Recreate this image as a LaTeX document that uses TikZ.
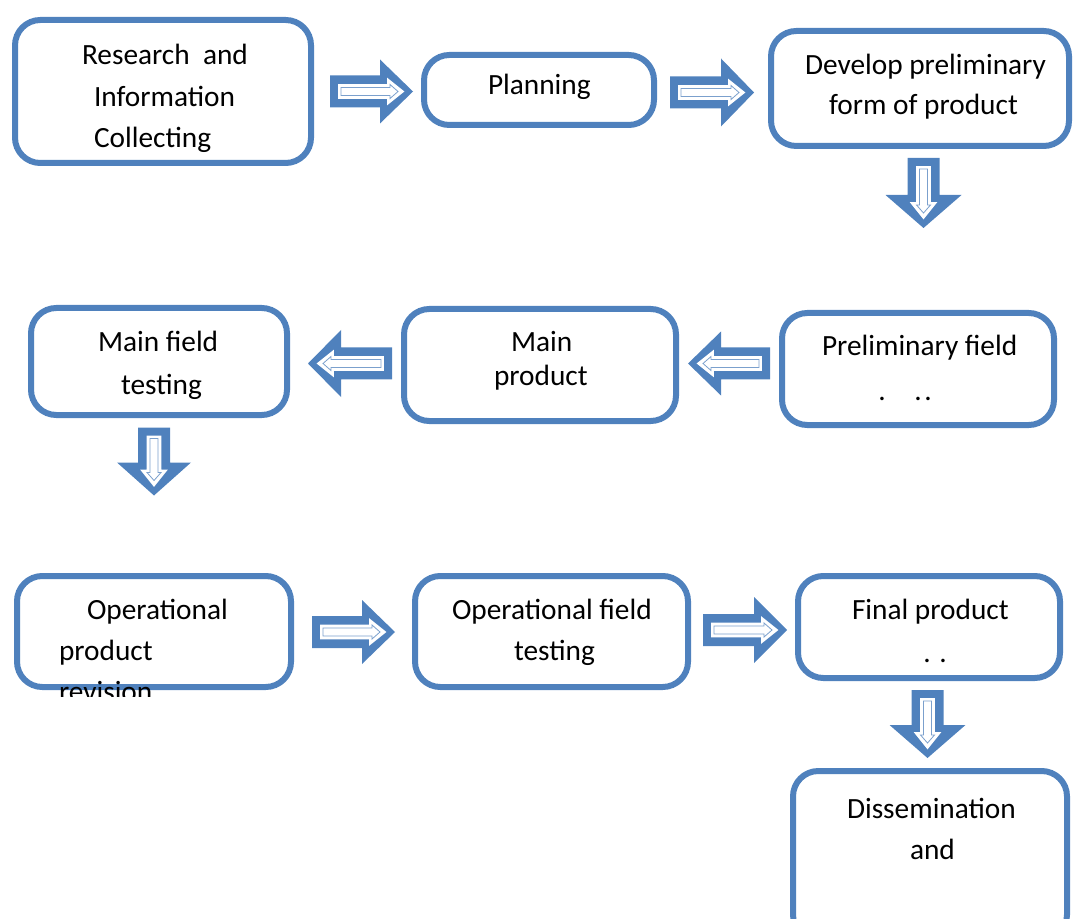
\documentclass[tikz,border=0pt]{standalone}
\usepackage{fontspec}
\setmainfont{Carlito}
\definecolor{boxblue}{HTML}{4F81BD}
\begin{document}
\begin{tikzpicture}[x=0.75pt,y=-0.75pt,
  box/.style={draw=boxblue,line width=4.5pt,rounded corners=19pt,fill=white,inner sep=0pt,outer sep=0pt},
  txt/.style={anchor=base west,inner sep=0pt,outer sep=0pt,yshift=-1.5pt,font=\fontsize{22pt}{26pt}\selectfont},
  dot/.style={anchor=base,inner sep=0pt,outer sep=0pt,font=\fontsize{22pt}{26pt}\selectfont},
  arrfill/.style={fill=boxblue},
  arrinner/.style={draw=white,line width=1.3pt,fill=white,line join=miter},
  arrcore/.style={draw=boxblue!75,line width=0.6pt,line join=miter}]
\useasboundingbox (0,0) rectangle (1073,919);
\clip (0,0) rectangle (1073,919);
% #1,#2 centre, #3 rotation, #4 length, #5 height
\newcommand\blockarr[5]{%
  \begin{scope}[shift={(#1,#2)},rotate=#3]
    \pgfmathsetmacro\hl{#4/2}\pgfmathsetmacro\hh{#5/2}
    \pgfmathsetmacro\hb{#4/2-33}
    \pgfmathsetmacro\it{-#4/2+9}\pgfmathsetmacro\ip{#4/2-10}\pgfmathsetmacro\ib{#4/2-25}
    \pgfmathsetmacro\ct{-#4/2+11}\pgfmathsetmacro\cp{#4/2-15}\pgfmathsetmacro\cb{#4/2-23}
    \fill[arrfill] (-\hl,-16) -- (\hb,-16) -- (\hb,-\hh) -- (\hl,0) -- (\hb,\hh) -- (\hb,16) -- (-\hl,16) -- cycle;
    \draw[arrinner] (\it,-6.5) -- (\ib,-6.5) -- (\ib,-12) -- (\ip,0) -- (\ib,12) -- (\ib,6.5) -- (\it,6.5) -- cycle;
    \draw[arrcore] (\ct,-4) -- (\cb,-4) -- (\cb,-7) -- (\cp,0) -- (\cb,7) -- (\cb,4) -- (\ct,4) -- cycle;
  \end{scope}}
% boxes
\node[box,minimum width=222pt,minimum height=107.25pt] (b1) at (163,91.5) {};
\node[box,minimum width=172.5pt,minimum height=52.5pt] (b2) at (539,90) {};
\node[box,minimum width=223.5pt,minimum height=86.25pt] (b3) at (920,88.5) {};
\node[box,minimum width=192pt,minimum height=80.25pt] (b4) at (159,361.5) {};
\node[box,minimum width=204pt,minimum height=84pt] (b5) at (540,365) {};
\node[box,minimum width=204pt,minimum height=84pt] (b6) at (918,369) {};
\node[box,minimum width=205.5pt,minimum height=83.25pt] (b7) at (154,631.5) {};
\node[box,minimum width=204.75pt,minimum height=83.25pt] (b8) at (551.5,631.5) {};
\node[box,minimum width=196.5pt,minimum height=76.5pt] (b9) at (929,627) {};
\node[box,minimum width=205.5pt,minimum height=126.75pt] (b10) at (930,855.5) {};
% texts
\node[txt] (t1a) at (82,63) {Research\ \ and};
\node[txt] (t1b) at (94,105) {Information};
\node[txt] (t1c) at (94,146) {Collecting};
\node[txt] (t2) at (488,93) {Planning};
\node[txt] (t3a) at (805,73) {Develop preliminary};
\node[txt] (t3b) at (829,113) {form of product};
\node[txt] (t4a) at (98,350) {Main field};
\node[txt] (t4b) at (121,392) {testing};
\node[txt] (t5a) at (511,350) {Main};
\node[txt] (t5b) at (494,383) {product};
\node[txt] (t6) at (822,354) {Preliminary field};
\node[dot] (d6a) at (882,400) {.};
\node[dot] (d6b) at (918,400) {.};
\node[dot] (d6c) at (928,400) {.};
\node[txt] (t7a) at (87,617) {Operational};
\node[txt] (t7b) at (59,658) {product};
\begin{scope}
  \clip (0,0) rectangle (1073,696);
  \node[txt] (t7c) at (59,699) {revision};
\end{scope}
\node[txt] (t8a) at (452,617) {Operational field};
\node[txt] (t8b) at (514,658) {testing};
\node[txt] (t9) at (852,617) {Final product};
\node[dot] (d9a) at (927,662) {.};
\node[dot] (d9b) at (943,662) {.};
\node[txt] (t10a) at (847,816) {Dissemination};
\node[txt] (t10b) at (910,857) {and};
% arrows
\blockarr{371.5}{91.5}{0}{83}{64}
\blockarr{712}{92.5}{0}{84}{68}
\blockarr{923.5}{193}{-90}{70}{76}
\blockarr{350}{363.5}{180}{84}{67}
\blockarr{729}{363.5}{180}{82}{64}
\blockarr{154}{461.5}{-90}{68}{74}
\blockarr{353.5}{632}{0}{83}{64}
\blockarr{745}{630}{0}{84}{66}
\blockarr{927.5}{724}{-90}{68}{76}
\end{tikzpicture}
\end{document}
